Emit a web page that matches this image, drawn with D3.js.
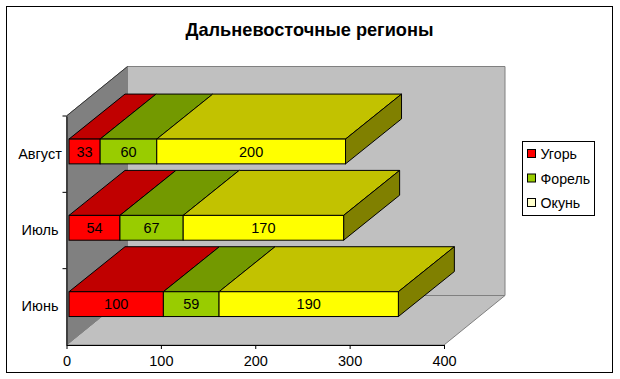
<!DOCTYPE html>
<html>
<head>
<meta charset="utf-8">
<script src="https://cdn.jsdelivr.net/npm/d3@7"></script>
<style>
  html, body { margin: 0; padding: 0; background: #fff; }
  svg { display: block; }
  text { font-family: "Liberation Sans", Arial, sans-serif; fill: #000; }
</style>
</head>
<body>
<svg id="chart" width="620" height="379"></svg>
<script>
// ------------------- data ------------------------
const months = ["Июнь", "Июль", "Август"];
const seriesNames = ["Угорь", "Форель", "Окунь"];
const ugor = [100, 54, 33];
const forel = [59, 67, 60];
const okun = [190, 170, 200];
const xTicks = [0, 100, 200, 300, 400];

// front, top and side colour of each series
const frontColor = ["#ff0000", "#99cc00", "#ffff00"];
const topColor = ["#c00000", "#739900", "#c2c200"];
const legendColor = ["#ff0000", "#99cc00", "#ffffcc"];
const sideColor = "#808000";

// ------------------- layout ------------------------
const x0 = 66.5, x1 = 444, yBottom = 345, yTop = 116;
const wallDx = 61, wallDy = -49.5; // depth of the box
const barDx = 56, barDy = -45;     // depth of one bar
const frontDx = 2.5, frontDy = -2.7; // bar front sits a bit behind the box front

const svg = d3.select("#chart");

const x = d3.scaleLinear().domain([0, 400]).range([x0, x1]);
const y = d3.scaleBand().domain(months).range([yBottom, yTop]);
const barH = 24.8;

const poly = pts => "M" + pts.map(p => p.join(",")).join("L") + "Z";

// chart frame
svg.append("rect")
  .attr("x", 6.5).attr("y", 6.5)
  .attr("width", 606).attr("height", 366)
  .attr("fill", "#fff").attr("stroke", "#000");

svg.append("text")
  .attr("x", 309.5).attr("y", 36)
  .attr("text-anchor", "middle")
  .style("font-size", "18.2px").style("font-weight", "bold")
  .text("Дальневосточные регионы");

// ------------------- box walls ------------------------
const box = svg.append("g");
box.append("path") // back wall
  .attr("d", poly([[x0 + wallDx, yTop + wallDy], [x1 + wallDx, yTop + wallDy],
    [x1 + wallDx, yBottom + wallDy], [x0 + wallDx, yBottom + wallDy]]))
  .attr("fill", "#c0c0c0").attr("stroke", "#808080");
box.append("path") // floor
  .attr("d", poly([[x0, yBottom], [x1, yBottom],
    [x1 + wallDx, yBottom + wallDy], [x0 + wallDx, yBottom + wallDy]]))
  .attr("fill", "#c0c0c0").attr("stroke", "#808080");
box.append("path") // left wall
  .attr("d", poly([[x0, yBottom], [x0, yTop],
    [x0 + wallDx, yTop + wallDy], [x0 + wallDx, yBottom + wallDy]]))
  .attr("fill", "#808080").attr("stroke", "#808080");
box.append("line") // dark upper edge of the left wall
  .attr("x1", x0).attr("y1", yTop)
  .attr("x2", x0 + wallDx).attr("y2", yTop + wallDy)
  .attr("stroke", "#333");

// ------------------- bars, back to front ------------------------
const table = months.map((m, i) => ({ month: m, s0: ugor[i], s1: forel[i], s2: okun[i] }));
const stacked = d3.stack().keys(["s0", "s1", "s2"])(table);

const bars = svg.append("g");
months.map((m, i) => i).reverse().forEach(i => {
  const m = months[i];
  const g = bars.append("g");
  const yFront = y(m) + (y.bandwidth() - barH) / 2 + frontDy;
  const yBack = yFront + barH;

  stacked.forEach((layer, k) => {
    const a = x(layer[i][0]) + frontDx;
    const b = x(layer[i][1]) + frontDx;

    g.append("path") // top face
      .attr("d", poly([[a, yFront], [b, yFront], [b + barDx, yFront + barDy], [a + barDx, yFront + barDy]]))
      .attr("fill", topColor[k]).attr("stroke", "#000");

    if (k === stacked.length - 1) {
      g.append("path") // right face
        .attr("d", poly([[b, yFront], [b + barDx, yFront + barDy], [b + barDx, yBack + barDy], [b, yBack]]))
        .attr("fill", sideColor).attr("stroke", "#000");
    }
  });

  stacked.forEach((layer, k) => {
    const a = x(layer[i][0]) + frontDx;
    const b = x(layer[i][1]) + frontDx;
    g.append("rect")
      .attr("x", a).attr("y", yFront)
      .attr("width", b - a).attr("height", barH)
      .attr("fill", frontColor[k]).attr("stroke", "#000");
    g.append("text")
      .attr("x", (a + b) / 2).attr("y", yFront + barH / 2)
      .attr("dy", ".36em")
      .attr("text-anchor", "middle")
      .style("font-size", "14.5px")
      .text(layer[i][1] - layer[i][0]);
  });
});

// ------------------- axes ------------------------
const xAxis = svg.append("g")
  .attr("transform", "translate(0," + yBottom + ")")
  .call(d3.axisBottom(x).tickValues(xTicks).tickSizeInner(4).tickSizeOuter(0).tickPadding(6.5));
const yAxis = svg.append("g")
  .attr("transform", "translate(" + x0 + ",0)")
  .call(d3.axisLeft(y).tickSize(0));

svg.selectAll(".domain").attr("stroke", "#000");
[xAxis, yAxis].forEach(a => a.selectAll("text")
  .style("font-family", '"Liberation Sans", Arial, sans-serif')
  .style("font-size", "14.5px")
  .attr("fill", "#000"));

// month labels are centred in their column left of the axis
yAxis.selectAll("text")
  .attr("x", -26.5)
  .attr("text-anchor", "middle");

// left ticks sit between the months, not on them
svg.append("g").selectAll("line")
  .data(months)
  .join("line")
  .attr("x1", x0 - 4).attr("x2", x0)
  .attr("y1", d => y(d)).attr("y2", d => y(d))
  .attr("stroke", "#000");

// ------------------- legend ------------------------
const legend = svg.append("g").attr("transform", "translate(522.5,141.5)");
legend.append("rect")
  .attr("width", 72).attr("height", 74)
  .attr("fill", "#fff").attr("stroke", "#000");
const row = legend.selectAll("g.row")
  .data(seriesNames)
  .join("g")
  .attr("class", "row")
  .attr("transform", (d, i) => "translate(0," + (12.5 + i * 24.5) + ")");
row.append("rect")
  .attr("x", 5).attr("y", -4.5)
  .attr("width", 8).attr("height", 8)
  .attr("fill", (d, i) => legendColor[i]).attr("stroke", "#000");
row.append("text")
  .attr("x", 18).attr("y", 0)
  .attr("dy", ".36em")
  .style("font-size", "14.2px")
  .text(d => d);
</script>
</body>
</html>
